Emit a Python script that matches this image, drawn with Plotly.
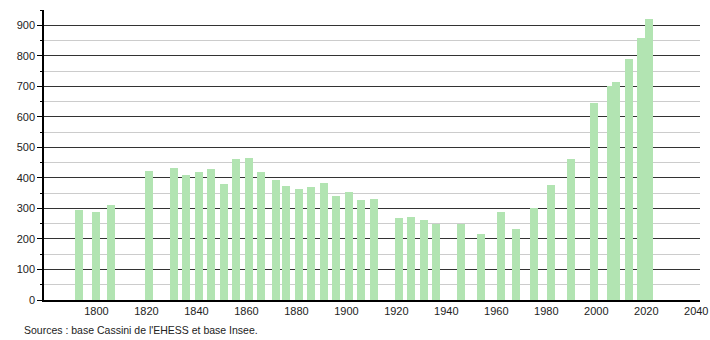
import plotly.graph_objects as go

years = [1793, 1800, 1806, 1821, 1831, 1836, 1841, 1846, 1851, 1856, 1861, 1866,
         1872, 1876, 1881, 1886, 1891, 1896, 1901, 1906, 1911, 1921, 1926, 1931,
         1936, 1946, 1954, 1962, 1968, 1975, 1982, 1990, 1999, 2006, 2008, 2013,
         2018, 2021]
population = [295, 288, 310, 422, 431, 408, 418, 428, 379, 461, 464, 419,
              392, 372, 365, 370, 382, 342, 353, 327, 330, 268, 271, 261,
              250, 250, 215, 288, 231, 300, 377, 461, 645, 700, 715, 789,
              857, 920]
x_ticks = [1800, 1820, 1840, 1860, 1880, 1900, 1920, 1940, 1960, 1980, 2000, 2020, 2040]
y_ticks = [0, 100, 200, 300, 400, 500, 600, 700, 800, 900]
source_text = "Sources : base Cassini de l'EHESS et base Insee."

fig = go.Figure()
fig.add_trace(go.Bar(
    x=years, y=population, width=3.2,
    marker=dict(color="#b2e4b2", line=dict(width=0)),
    hoverinfo="x+y",
))

fig.update_layout(
    width=710, height=340,
    margin=dict(l=44, r=10, t=10, b=40),
    paper_bgcolor="white", plot_bgcolor="white",
    font=dict(family="Liberation Sans, Arial, sans-serif", size=11, color="#222"),
    showlegend=False,
    bargap=0,
)
fig.update_xaxes(
    range=[1779, 2041.5], automargin=False,
    tickvals=x_ticks, ticktext=[str(v) for v in x_ticks],
    showgrid=False, zeroline=False,
    showline=True, linecolor="black", linewidth=1.5,
    ticks="", tickfont=dict(size=11),
)
fig.update_yaxes(
    range=[0, 950], automargin=False,
    tickvals=y_ticks,
    showgrid=True, gridcolor="#333333", gridwidth=1,
    zeroline=False,
    showline=True, linecolor="black", linewidth=1.5,
    ticks="outside", ticklen=5, tickcolor="black",
    minor=dict(dtick=50, tick0=0, showgrid=True, gridcolor="#cccccc", gridwidth=1,
               ticks="outside", ticklen=2, tickcolor="black"),
    tickfont=dict(size=11),
)
fig.add_annotation(
    xref="paper", yref="paper", x=-0.0335, y=-0.103,
    xanchor="left", yanchor="middle",
    text=source_text, showarrow=False,
    font=dict(size=10.5, color="#222"),
)

fig.write_html("out.html")
